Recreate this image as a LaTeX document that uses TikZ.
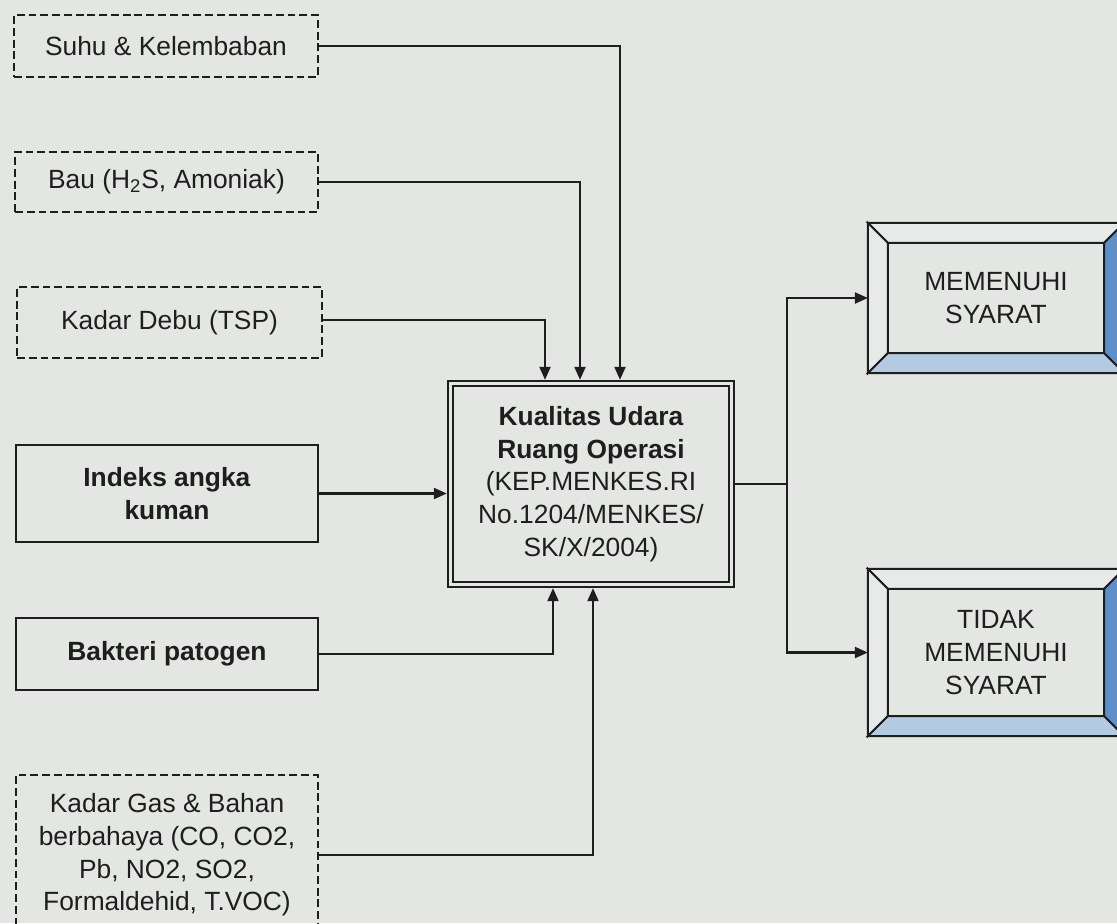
\documentclass[tikz,border=0pt]{standalone}
\usepackage{fontspec}
\setmainfont{Liberation Sans}
\usepackage{tikz}
\usetikzlibrary{arrows.meta, positioning}
\definecolor{paper}{HTML}{E4E6E3}
\definecolor{ink}{HTML}{1E1E1E}
\definecolor{bevelblue}{HTML}{5E8FC8}
\definecolor{bevellight}{HTML}{B3CBE2}
\definecolor{bevelgrey}{HTML}{E8EAE9}
\tikzset{
  dashbox/.style={draw=ink, line width=1.1pt, dash pattern=on 4.5pt off 2.2pt, align=center, inner sep=0pt},
  solidbox/.style={draw=ink, line width=1.3pt, align=center, inner sep=0pt},
  arr/.style={draw=ink, line width=1.2pt, -{Triangle[length=2.6mm,width=2.2mm]}},
  ln/.style={draw=ink, line width=1.2pt},
}

\begin{document}
\begin{tikzpicture}[font=\fontsize{15}{18.6}\selectfont, text=ink]
        \useasboundingbox (0,0) rectangle (22.34,-18.46);
        \clip (0,0) rectangle (22.34,-18.46);
        \fill[paper] (0,0) rectangle (22.34,-18.46);
        % Input boxes (left column)
        \node[dashbox, minimum width=6.08cm, minimum height=1.24cm] (suhu) at (3.32,-0.92) {Suhu \& Kelembaban};
        \node[dashbox, minimum width=6.06cm, minimum height=1.20cm] (bau) at (3.33,-3.64) {Bau (H\textsubscript{2}S, Amoniak)};
        \node[dashbox, minimum width=6.10cm, minimum height=1.42cm] (debu) at (3.39,-6.45) {Kadar Debu (TSP)};
        \node[solidbox, minimum width=6.04cm, minimum height=1.94cm] (kuman) at (3.34,-9.87) {\textbf{Indeks angka}\\ \textbf{kuman}};
        \node[solidbox, minimum width=6.04cm, minimum height=1.44cm] (bakteri) at (3.34,-13.08) {\textbf{Bakteri patogen}};
        \node[dashbox, minimum width=6.04cm, minimum height=3.20cm] (gas) at (3.34,-17.10) {Kadar Gas \& Bahan\\ berbahaya (CO, CO2,\\ Pb, NO2, SO2,\\ Formaldehid, T.VOC)};
        % Main box
        \node[draw=ink, line width=1.3pt, double=paper, double distance=1.5pt, outer sep=2.1pt,
              minimum width=5.62cm, minimum height=4.02cm, align=center, inner sep=0pt] (kualitas) at (11.82,-9.68)
              {\textbf{Kualitas Udara}\\ \textbf{Ruang Operasi}\\ (KEP.MENKES.RI\\ No.1204/MENKES/\\ SK/X/2004)};
        % Result boxes
        \node[solidbox, minimum width=5.08cm, minimum height=2.96cm] (yes) at (19.92,-5.96) {MEMENUHI\\ SYARAT};
        \node[solidbox, minimum width=5.08cm, minimum height=3.30cm] (no) at (19.92,-13.05) {TIDAK\\ MEMENUHI\\ SYARAT};
        % Bevel frames
        \foreach \b in {yes,no} {
            \filldraw[draw=ink, line width=1.1pt, fill=bevelgrey] (\b.north west) -- (\b.north east) -- ([shift={(-0.4,-0.4)}]\b.north east) -- ([shift={(0.4,-0.4)}]\b.north west) -- cycle;
            \filldraw[draw=ink, line width=1.1pt, fill=bevelgrey] (\b.north west) -- ([shift={(0.4,-0.4)}]\b.north west) -- ([shift={(0.4,0.4)}]\b.south west) -- (\b.south west) -- cycle;
            \filldraw[draw=ink, line width=1.1pt, fill=bevelblue] (\b.north east) -- (\b.south east) -- ([shift={(-0.4,0.4)}]\b.south east) -- ([shift={(-0.4,-0.4)}]\b.north east) -- cycle;
            \filldraw[draw=ink, line width=1.1pt, fill=bevellight] (\b.south west) -- ([shift={(0.4,0.4)}]\b.south west) -- ([shift={(-0.4,0.4)}]\b.south east) -- (\b.south east) -- cycle;
        }
        % Connectors into the main box
        \draw[arr] (suhu.east) -| ([xshift=0.58cm]kualitas.north);
        \draw[arr] (bau.east) -| ([xshift=-0.22cm]kualitas.north);
        \draw[arr] ([yshift=0.05cm]debu.east) -| ([xshift=-0.92cm]kualitas.north);
        \draw[arr] (kuman.east) -- (kuman.east -| kualitas.west);
        \draw[arr] (bakteri.east) -| ([xshift=-0.76cm]kualitas.south);
        \draw[arr] (gas.east) -| ([xshift=0.04cm]kualitas.south);
        % Split to the results
        \coordinate (split) at ([xshift=1.04cm]kualitas.east);
        \draw[ln] (kualitas.east) -- (split);
        \draw[arr] (split) |- (yes.west);
        \draw[arr] (split) |- (no.west);
    \end{tikzpicture}
\end{document}
